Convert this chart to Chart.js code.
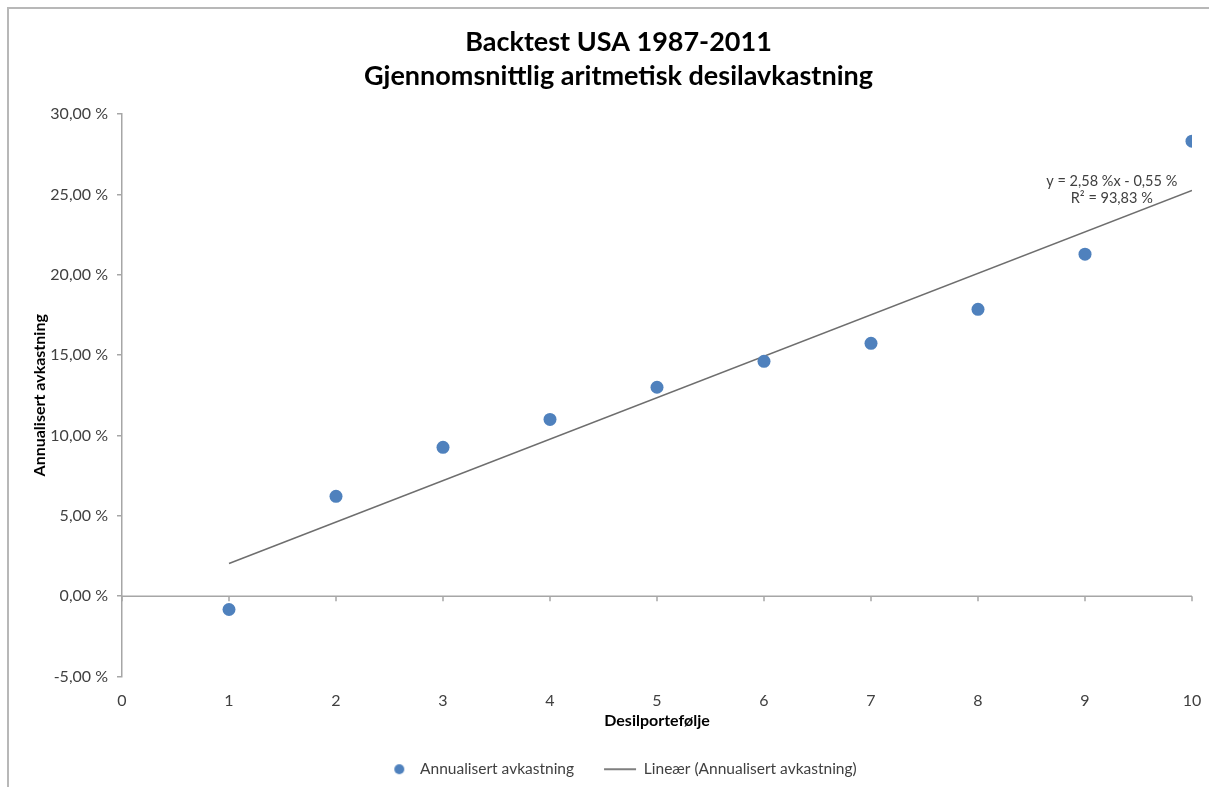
<!DOCTYPE html>
<html>
<head>
<meta charset="utf-8">
<script src="https://cdn.jsdelivr.net/npm/chart.js@4.4.1/dist/chart.umd.min.js"></script>
<style>
  html, body { margin: 0; padding: 0; background: #ffffff; }
  #wrap { position: relative; width: 1209px; height: 787px; overflow: hidden; }
  #frame { position: absolute; left: 7px; top: 7px; width: 1300px; height: 900px;
           border-left: 2px solid #b8b8b8; border-top: 2px solid #b8b8b8; }
  canvas { position: absolute; left: 0; top: 0; }
</style>
</head>
<body>
<div id="wrap">
  <div id="frame"></div>
  <canvas id="chart" width="1209" height="787"></canvas>
</div>
<script>
// Decile portfolios and their annualised return (%)
const portfolios = [1, 2, 3, 4, 5, 6, 7, 8, 9, 10];
const annualReturns = [-0.83, 6.21, 9.26, 11.00, 13.00, 14.61, 15.73, 17.85, 21.28, 28.31];

// Linear trend line as stated in the equation label
const trendSlope = 2.58;
const trendIntercept = -0.55;
const trendR2 = 93.83;
const trendRange = [1, 10];

// Axis ticks
const xTicks = [0, 1, 2, 3, 4, 5, 6, 7, 8, 9, 10];
const yTicks = [-5, 0, 5, 10, 15, 20, 25, 30];

const titleLines = ['Backtest USA 1987-2011', 'Gjennomsnittlig aritmetisk desilavkastning'];
const seriesName = 'Annualisert avkastning';
const trendName = 'Lineær (Annualisert avkastning)';

const FONT = 'Lato, "Open Sans", "DejaVu Sans", sans-serif';
const fmtPct = v => v.toFixed(2).replace('.', ',');

const pointData = portfolios.map((x, i) => ({ x: x, y: annualReturns[i] }));
const trendData = trendRange.map(x => ({ x: x, y: trendSlope * x + trendIntercept }));

// Legend marker for the scatter series: a dot placed in a wider slot
function dotMarker() {
  const c = document.createElement('canvas');
  c.width = 32; c.height = 14;
  const g = c.getContext('2d');
  g.fillStyle = '#4F81BD';
  g.beginPath();
  g.arc(19, 7, 5, 0, Math.PI * 2);
  g.fill();
  return c;
}

// Horizontal axis line through zero with downward tick marks
const zeroAxis = {
  id: 'zeroAxis',
  beforeDatasetsDraw(chart) {
    const { ctx, chartArea, scales } = chart;
    const y0 = scales.y.getPixelForValue(0);
    ctx.save();
    ctx.strokeStyle = '#a6a6a6';
    ctx.lineWidth = 1.5;
    ctx.beginPath();
    ctx.moveTo(chartArea.left, y0);
    ctx.lineTo(chartArea.right, y0);
    xTicks.forEach(v => {
      const px = scales.x.getPixelForValue(v);
      ctx.moveTo(px, y0);
      ctx.lineTo(px, y0 + 5);
    });
    ctx.stroke();
    ctx.restore();
  }
};

// Trend equation and R² label near the end of the trend line
const trendLabel = {
  id: 'trendLabel',
  afterDatasetsDraw(chart) {
    const { ctx, scales } = chart;
    const cx = scales.x.getPixelForValue(9.25);
    ctx.save();
    ctx.fillStyle = '#404040';
    ctx.font = '14.5px ' + FONT;
    ctx.textAlign = 'center';
    ctx.textBaseline = 'middle';
    const sign = trendIntercept < 0 ? '-' : '+';
    ctx.fillText('y = ' + fmtPct(trendSlope) + ' %x ' + sign + ' ' + fmtPct(Math.abs(trendIntercept)) + ' %',
                 cx, scales.y.getPixelForValue(25.82));
    ctx.fillText('R² = ' + fmtPct(trendR2) + ' %', cx, scales.y.getPixelForValue(24.76));
    ctx.restore();
  }
};

new Chart(document.getElementById('chart'), {
  type: 'scatter',
  data: {
    datasets: [
      {
        label: seriesName,
        data: pointData,
        backgroundColor: '#4F81BD',
        borderColor: '#4F81BD',
        pointRadius: 6.5,
        pointHoverRadius: 6.5,
        pointBorderWidth: 0
      },
      {
        label: trendName,
        type: 'line',
        data: trendData,
        showLine: true,
        borderColor: '#6e6e6e',
        backgroundColor: '#6e6e6e',
        borderWidth: 1.5,
        pointRadius: 0,
        pointStyle: 'line',
        fill: false
      }
    ]
  },
  options: {
    responsive: false,
    animation: false,
    devicePixelRatio: 1,
    layout: { padding: { left: 28, right: 0, top: 0, bottom: 0 } },
    plugins: {
      tooltip: { enabled: false },
      title: {
        display: true,
        text: titleLines,
        color: '#000000',
        font: { family: FONT, size: 27, weight: 'bold', lineHeight: 1.26 },
        padding: { top: 25, bottom: 21 }
      },
      legend: {
        position: 'bottom',
        labels: {
          usePointStyle: true,
          pointStyleWidth: 32,
          padding: 30,
          color: '#404040',
          font: { family: FONT, size: 15.5 },
          generateLabels(chart) {
            const items = Chart.defaults.plugins.legend.labels.generateLabels(chart);
            items[0].pointStyle = dotMarker();
            items[1].pointStyle = 'line';
            items[1].strokeStyle = '#7f7f7f';
            items[1].lineWidth = 2;
            return items;
          }
        }
      }
    },
    scales: {
      x: {
        type: 'linear',
        min: 0,
        max: 10,
        position: 'bottom',
        border: { display: false },
        grid: { display: false, drawTicks: false },
        afterBuildTicks(scale) { scale.ticks = xTicks.map(v => ({ value: v })); },
        afterFit(scale) {
          scale.height = 55;
          scale.paddingLeft = 0;
          scale.paddingRight = 17;
        },
        ticks: {
          padding: 14.5,
          color: '#404040',
          font: { family: FONT, size: 16 },
          callback: v => String(v)
        },
        title: {
          display: true,
          text: 'Desilportefølje',
          color: '#000000',
          font: { family: FONT, size: 16, weight: 'bold' },
          padding: { top: 0, bottom: 1.5 }
        }
      },
      y: {
        type: 'linear',
        min: -5,
        max: 30,
        border: { display: true, color: '#a6a6a6', width: 1.5 },
        grid: { drawOnChartArea: false, drawTicks: true, tickLength: 5, color: '#a6a6a6', lineWidth: 1.5 },
        afterBuildTicks(scale) { scale.ticks = yTicks.map(v => ({ value: v })); },
        afterFit(scale) { scale.width = 94; },
        ticks: {
          padding: 9,
          color: '#404040',
          font: { family: FONT, size: 16 },
          callback: v => fmtPct(v) + ' %'
        },
        title: {
          display: true,
          text: seriesName,
          color: '#000000',
          font: { family: FONT, size: 16, weight: 'bold' },
          padding: { top: 2.5, bottom: 0 }
        }
      }
    }
  },
  plugins: [zeroAxis, trendLabel]
});
</script>
</body>
</html>
